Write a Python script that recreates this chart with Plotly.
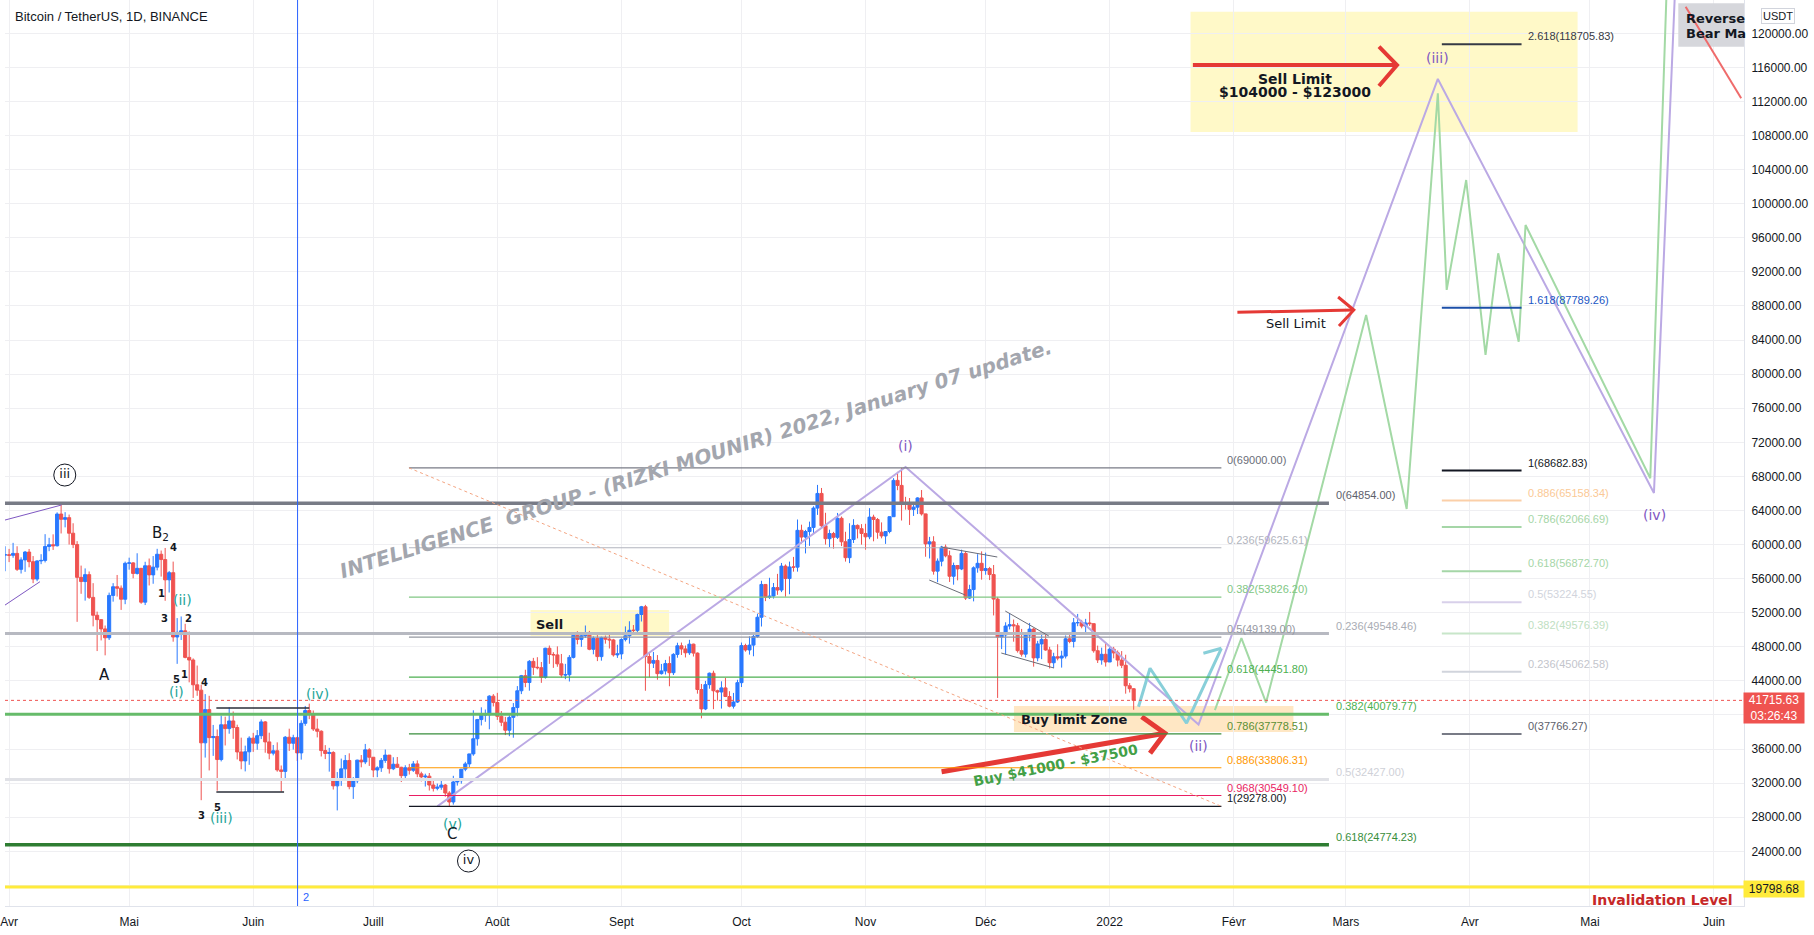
import pandas as pd
import plotly.graph_objects as go

# ---------------- candle data (BTCUSDT 1D) ----------------
opens = [55820, 57630, 58770,
         58800, 58740, 58960, 57090, 58200, 59120, 57990, 55950, 58080, 58140, 59770, 59980, 59860, 63580, 62960,
         63160, 61330, 60000, 56150, 55660, 56470, 53800, 51700, 51190, 50100, 49060, 54030, 55050, 54880, 53580,
         57800, 57850, 56610, 57210, 53240, 57510, 56440, 57350, 58860, 58240, 55860, 56700, 49150, 49700, 49880,
         46760, 46450, 43540, 42910, 36730, 40630, 37340, 37470, 34770, 38850, 38400, 39300, 38530, 35660, 34610, 35680,
         37280, 36690, 37570, 39190, 36840, 35520, 35800, 33550, 33380, 37390, 36680, 37330, 35550, 39020, 40520,
         40140, 38350, 38090, 35820, 35480, 35600, 31680, 32510, 33680, 34660, 31590, 32280, 34700, 34490, 35910,
         35040, 33540, 33800, 34670, 35290, 33690, 34220, 33860, 32880, 33810, 33510, 34260, 33090, 32730, 32820,
         31780, 31390, 31530, 31780, 30840, 29790, 32140, 32290, 33640, 34260, 35430, 37210, 39460, 40020, 40020, 42210,
         41460, 39850, 39150, 38210, 39720, 40870, 42840, 44610, 43810, 46290, 45600, 45550, 44420, 47830, 47100,
         47050, 46000, 44690, 44720, 46760, 49340, 48870, 49290, 49520, 47710, 48990, 46850, 49070, 48900, 48810, 47050,
         47170, 48850, 49290, 49940, 49930, 51790, 52700, 46860, 46080, 46400, 44850, 45170, 46030, 44960, 47110,
         48120, 47750, 47300, 48310, 47260, 42990, 40710, 43560, 44900, 42840, 42700, 43180, 42170, 41030, 41520,
         43790, 48140, 47630, 48200, 49220, 51470, 55320, 53790, 53950, 54950, 54660, 57470, 56010, 57370, 57350,
         61670, 60880, 61530, 62010, 64280, 66000, 62210, 60690, 61290, 60850, 63080, 60330, 58460, 60590, 62250, 61860,
         61300, 60910, 63220, 62940, 61450, 61010, 61530, 63270, 67530, 66940, 64880, 64770, 64130, 64390, 65470,
         63600, 60080, 60320, 56880, 58050, 59700, 58680, 56280, 57540, 57140, 58960, 53720, 54720, 57270, 57800,
         56950, 57180, 56480, 53600, 49150, 49400, 50440, 50590, 50470, 47550, 47140, 49390, 50080, 46700, 48340,
         48860, 47630, 46130, 46830, 46680, 46910, 48940, 48630, 50820, 50840, 50430, 50800, 50720, 47540, 46460, 47120,
         46220, 47720, 47290, 46440, 45830, 43430, 43080]
highs = [58400, 59370, 59800,
         59490, 60200, 59800, 58500, 59250, 59480, 58650, 58150, 58870, 61220, 60790, 61200, 63780, 64854, 63800,
         63520, 62500, 60400, 57530, 57200, 56840, 55470, 52130, 51200, 50500, 54360, 55470, 56430, 55200, 58000,
         58460, 57940, 58980, 57250, 57980, 58360, 58650, 59500, 59300, 59600, 56900, 58000, 51370, 51560, 50700,
         49800, 46640, 45800, 43550, 42450, 42250, 38830, 38300, 39920, 39800, 40900, 40410, 38860, 37340, 36400, 37500,
         37900, 38230, 39480, 39290, 37920, 36480, 36790, 34070, 37530, 38390, 37680, 37450, 39380, 41060, 41330,
         40530, 39560, 38200, 36460, 36140, 35750, 33300, 34880, 35300, 35500, 32700, 34750, 35300, 36600, 36100,
         35060, 33980, 34950, 35950, 35290, 35040, 35070, 33920, 34100, 34260, 34590, 34670, 33340, 33110, 33190,
         32250, 31950, 32440, 31900, 31060, 32860, 32580, 33650, 34500, 35400, 40550, 39540, 40900, 40640, 42320, 42450,
         42600, 40460, 39780, 39970, 41400, 43390, 44700, 45310, 46450, 46700, 46780, 46220, 47890, 48150, 47370,
         48050, 47160, 46000, 47030, 49380, 49830, 49500, 50500, 49870, 49230, 49380, 49200, 49320, 49640, 48930, 48240,
         49000, 50400, 51000, 50560, 51900, 52800, 52920, 47400, 47400, 47030, 45990, 46460, 46880, 47250, 48480,
         48500, 48150, 48820, 48370, 47340, 43640, 44000, 44980, 45200, 42970, 43950, 44350, 42790, 42590, 44130,
         48500, 48360, 49230, 49530, 51890, 55750, 55330, 56100, 55490, 56560, 57840, 57670, 58000, 58550, 62940,
         62330, 61720, 62690, 64490, 67000, 66640, 63730, 61750, 61490, 63710, 63290, 61500, 62500, 62980, 62360, 62400,
         62440, 64270, 63500, 63120, 62600, 61560, 63300, 67790, 68530, 69000, 65600, 65460, 65000, 65550, 66400,
         63620, 60900, 60980, 58370, 59850, 60000, 59290, 57880, 57600, 59400, 59200, 55280, 57440, 58870, 59200,
         59050, 57380, 57600, 53860, 49700, 50880, 51940, 51200, 50800, 50100, 49480, 50800, 50200, 48700, 49500,
         49440, 47990, 47300, 48300, 47540, 49330, 49580, 51380, 51860, 51160, 51280, 52090, 50720, 48140, 47900, 48550,
         47950, 47990, 47570, 47500, 47070, 43750, 43150]
lows = [54900, 57000, 56870,
        57940, 58450, 56900, 56600, 56800, 57330, 55470, 55700, 57700, 57900, 59220, 59370, 59770, 61300, 62020,
        60000, 59580, 50930, 54220, 53420, 53610, 50400, 47500, 48750, 47000, 48800, 53300, 53900, 52330, 53000,
        57050, 56040, 56480, 53050, 52900, 55200, 55400, 56970, 56240, 53400, 54370, 48600, 46000, 48800, 46650,
        43830, 42000, 42250, 30000, 35000, 33490, 35200, 31110, 34550, 36420, 37800, 37200, 34780, 33630, 33380, 34150,
        35670, 35920, 37170, 35570, 34800, 35260, 33340, 31000, 32400, 35780, 35940, 34600, 34760, 38730, 39510,
        38120, 37370, 35130, 34820, 33350, 31250, 28800, 31680, 32290, 31280, 30150, 32000, 33860, 34230, 34020,
        32710, 32700, 33320, 34380, 33120, 33530, 33780, 32130, 32260, 33010, 33310, 32700, 32200, 31600, 31130,
        31020, 31160, 31220, 30410, 29278, 29480, 31710, 31940, 33400, 33880, 35210, 36400, 38770, 39200, 38320, 41000,
        39420, 38690, 37640, 37510, 37330, 39850, 42450, 43260, 42850, 44700, 45350, 43770, 44260, 46000, 45530,
        45660, 44380, 44200, 43930, 46630, 48290, 48000, 49040, 47600, 47120, 46320, 46370, 48370, 47800, 46850, 46700,
        46540, 48630, 48370, 49450, 49500, 50970, 42840, 44410, 45510, 44140, 44740, 44750, 43370, 44690, 46720,
        47040, 46750, 47050, 46860, 42500, 39600, 40570, 43080, 40680, 41680, 40750, 42100, 40900, 40750, 41410,
        43280, 47430, 47080, 46890, 49050, 50380, 53360, 53620, 53660, 54100, 54420, 53880, 54170, 56820, 56820,
        60120, 58960, 59850, 61320, 63480, 62000, 60000, 59700, 59510, 60650, 59820, 58000, 57820, 60180, 60720, 59990,
        59400, 60630, 60380, 60680, 60730, 60080, 61320, 63270, 66380, 62820, 64100, 62300, 63360, 63580, 63400,
        58570, 58370, 56470, 55580, 57450, 58500, 55610, 55290, 55800, 57000, 53500, 53610, 53330, 56700, 55880,
        56460, 55830, 51680, 42000, 47730, 47100, 50040, 48600, 47320, 46850, 46750, 48640, 45670, 46300, 46550,
        47530, 45460, 45520, 46410, 45560, 46630, 48420, 47920, 50420, 50170, 49420, 50450, 47310, 46100, 45900, 45680,
        46210, 46650, 45700, 45500, 42500, 42640, 40610]
closes = [57630, 58770, 58800,
          58740, 58960, 57090, 58200, 59120, 57990, 55950, 58080, 58140, 59770, 59980, 59860, 63580, 62960, 63160,
          61330, 60000, 56150, 55660, 56470, 53800, 51700, 51190, 50100, 49060, 54030, 55050, 54880, 53580, 57800,
          57850, 56610, 57210, 53240, 57510, 56440, 57350, 58860, 58240, 55860, 56700, 49150, 49700, 49880, 46760,
          46450, 43540, 42910, 36730, 40630, 37340, 37470, 34770, 38850, 38400, 39300, 38530, 35660, 34610, 35680, 37280,
          36690, 37570, 39190, 36840, 35520, 35800, 33550, 33380, 37390, 36680, 37330, 35550, 39020, 40520, 40140,
          38350, 38090, 35820, 35480, 35600, 31680, 32510, 33680, 34660, 31590, 32280, 34700, 34490, 35910, 35040,
          33540, 33800, 34670, 35290, 33690, 34220, 33860, 32880, 33810, 33510, 34260, 33090, 32730, 32820, 31780,
          31390, 31530, 31780, 30840, 29790, 32140, 32290, 33640, 34260, 35430, 37210, 39460, 40020, 40020, 42210, 41460,
          39850, 39150, 38210, 39720, 40870, 42840, 44610, 43810, 46290, 45600, 45550, 44420, 47830, 47100, 47050,
          46000, 44690, 44720, 46760, 49340, 48870, 49290, 49520, 47710, 48990, 46850, 49070, 48900, 48810, 47050, 47170,
          48850, 49290, 49940, 49930, 51790, 52700, 46860, 46080, 46400, 44850, 45170, 46030, 44960, 47110, 48120,
          47750, 47300, 48310, 47260, 42990, 40710, 43560, 44900, 42840, 42700, 43180, 42170, 41030, 41520, 43790,
          48140, 47630, 48200, 49220, 51470, 55320, 53790, 53950, 54950, 54660, 57470, 56010, 57370, 57350, 61670,
          60880, 61530, 62010, 64280, 66000, 62210, 60690, 61290, 60850, 63080, 60330, 58460, 60590, 62250, 61860, 61300,
          60910, 63220, 62940, 61450, 61010, 61530, 63270, 67530, 66940, 64880, 64770, 64130, 64390, 65470, 63600,
          60080, 60320, 56880, 58050, 59700, 58680, 56280, 57540, 57140, 58960, 53720, 54720, 57270, 57800, 56950,
          57180, 56480, 53600, 49150, 49400, 50440, 50590, 50470, 47550, 47140, 49390, 50080, 46700, 48340, 48860,
          47630, 46130, 46830, 46680, 46910, 48940, 48630, 50820, 50840, 50430, 50800, 50720, 47540, 46460, 47120, 46220,
          47720, 47290, 46440, 45830, 43430, 43080, 41716]
dates = pd.date_range("2021-03-29", periods=len(closes), freq="D")

last_price = 41715.63
invalidation_price = 19798.68

month_ticks = ["2021-04-01", "2021-05-01", "2021-06-01", "2021-07-01", "2021-08-01", "2021-09-01",
               "2021-10-01", "2021-11-01", "2021-12-01", "2022-01-01", "2022-02-01", "2022-03-01",
               "2022-04-01", "2022-05-01", "2022-06-01"]
month_labels = ["Avr", "Mai", "Juin", "Juill", "Août", "Sept", "Oct", "Nov", "Déc", "2022",
                "Févr", "Mars", "Avr", "Mai", "Juin"]

# Fibonacci retracement 1 (Jul -> Jan)
fib1_levels = [0, 0.236, 0.382, 0.5, 0.618, 0.786, 0.886, 0.968, 1]
fib1_prices = [69000.00, 59625.61, 53826.20, 49139.00, 44451.80, 37778.51, 33806.31, 30549.10, 29278.00]
fib1_line_colors = ["#787b86", "#b2b5be", "#81c784", "#9598a1", "#4caf50", "#388e3c", "#ff9800", "#e91e63", "#131722"]
fib1_text_colors = ["#6a6d78", "#b2b5be", "#81c784", "#9598a1", "#4caf50", "#5b8f35", "#ff9800", "#e91e63", "#131722"]
# Fibonacci retracement 2 (thick, from the left)
fib2_levels = [0, 0.236, 0.382, 0.5, 0.618]
fib2_prices = [64854.00, 49548.46, 40079.77, 32427.00, 24774.23]
fib2_line_colors = ["#787b86", "#b7b9c1", "#66bb6a", "#e0e1e6", "#2e7d32"]
fib2_text_colors = ["#5d606b", "#a9acb4", "#4caf50", "#cfd1d8", "#388e3c"]
fib2_widths = [3.5, 3, 3, 3, 3.5]
# Fibonacci extension 3 (right)
fib3_levels = [0, 0.236, 0.382, 0.5, 0.618, 0.786, 0.886, 1, 1.618, 2.618]
fib3_prices = [37766.27, 45062.58, 49576.39, 53224.55, 56872.70, 62066.69, 65158.34, 68682.83, 87789.26, 118705.83]
fib3_line_colors = ["#787b86", "#d1d4dc", "#c8e6c9", "#d8d0ea", "#a5d6a7", "#a5d6a7", "#fbcfa8", "#131722", "#1c4fa8", "#363a45"]
fib3_text_colors = ["#5d606b", "#c3c5cc", "#c0e0c2", "#d1d4dc", "#a5d6a7", "#a5d6a7", "#fbc995", "#131722", "#1a56c4", "#363a45"]

# projected wave paths
purple_x = ["2021-07-17", "2021-11-11", "2022-01-23 05:00", "2022-03-24", "2022-05-17", "2022-05-23 05:00"]
purple_y = [29278, 69100, 38880, 114640, 66050, 135600]
green_x = ["2022-01-27 07:00", "2022-02-02 22:00", "2022-02-09 02:00", "2022-03-06 02:00", "2022-03-16 05:00",
           "2022-03-24", "2022-03-26 05:00", "2022-03-31 02:00", "2022-04-04 22:00", "2022-04-08 02:00",
           "2022-04-13 05:00", "2022-04-14 22:00", "2022-05-16 02:00", "2022-05-20 22:00"]
green_y = [40560, 49030, 41460, 86940, 64170, 112960, 89880, 102780, 82250, 94180, 83810, 97500, 67780, 135640]
teal_x = ["2022-01-08 05:00", "2022-01-11 02:00", "2022-01-20 05:00", "2022-01-28 22:00", None,
          "2022-01-24 10:00", "2022-01-28 22:00"]
teal_y = [40970, 45480, 39030, 47830, None, 47240, 47830]

# red arrows (shaft + head)
arrow_big_x = ["2022-01-21 19:00", "2022-03-13 19:00", None, "2022-03-09 07:00", "2022-03-13 19:00", "2022-03-09 07:00"]
arrow_big_y = [116280, 116280, None, 118430, 116280, 113820]
arrow_mid_x = ["2022-02-01 22:00", "2022-03-03", None, "2022-02-27 02:00", "2022-03-03", "2022-02-27 07:00"]
arrow_mid_y = [87260, 87530, None, 89050, 87530, 85650]
arrow_buy_x = ["2021-11-20", "2022-01-14 19:00", None, "2022-01-09", "2022-01-14 19:00", "2022-01-11 02:00"]
arrow_buy_y = [33345, 37850, None, 39800, 37850, 35500]

fig = go.Figure()

fig.add_trace(go.Candlestick(
    x=dates, open=opens, high=highs, low=lows, close=closes,
    increasing=dict(line=dict(color="#2979ff", width=1), fillcolor="#2979ff"),
    decreasing=dict(line=dict(color="#ef5350", width=1), fillcolor="#ef5350"),
    whiskerwidth=0, hoverinfo="skip"))

shapes = []


def hline(x0, x1, y, color, width, dash="solid", xref="x"):
    shapes.append(dict(type="line", xref=xref, yref="y", x0=x0, x1=x1, y0=y, y1=y,
                       line=dict(color=color, width=width, dash=dash)))


def seg(x0, y0, x1, y1, color, width, dash="solid"):
    shapes.append(dict(type="line", xref="x", yref="y", x0=x0, x1=x1, y0=y0, y1=y1,
                       line=dict(color=color, width=width, dash=dash)))


def rect(x0, x1, y0, y1, fill, layer="below"):
    shapes.append(dict(type="rect", xref="x", yref="y", x0=x0, x1=x1, y0=y0, y1=y1,
                       line=dict(width=0), fillcolor=fill, layer=layer))


# boxes
rect("2022-01-21 05:00", "2022-04-27 22:00", 108420, 122530, "rgba(255,235,59,0.28)")
rect("2021-08-09 07:00", "2021-09-12 22:00", 49280, 52330, "rgba(255,235,59,0.28)")
rect("2021-12-08 02:00", "2022-02-15 22:00", 38000, 41050, "rgba(255,179,71,0.32)")
rect("2022-05-23 02:00", "2022-07-01", 118430, 123520, "#d6d7dc", "above")

annotations = []


def ann(text, x, y, color="#131722", size=13, family="DejaVu Sans", xanchor="center", yanchor="middle",
        angle=0, xref="x", yref="y", **kw):
    d = dict(text=text, x=x, y=y, xref=xref, yref=yref, showarrow=False, xanchor=xanchor, yanchor=yanchor,
             textangle=angle, font=dict(color=color, size=size, family=family))
    d.update(kw)
    annotations.append(d)


def lvl(v):
    return ("%g" % v)


# fib 2 (thick)
for L, p, c, tc, w in zip(fib2_levels, fib2_prices, fib2_line_colors, fib2_text_colors, fib2_widths):
    hline("2021-03-01", "2022-02-24 19:00", p, c, w)
    ann(f"{lvl(L)}({p:.2f})", "2022-02-26 02:00", p, tc, 11, "Liberation Sans", "left", "bottom")
# fib 1
for L, p, c, tc in zip(fib1_levels, fib1_prices, fib1_line_colors, fib1_text_colors):
    hline("2021-07-09 22:00", "2022-01-28 22:00", p, c, 1.2)
    ann(f"{lvl(L)}({p:.2f})", "2022-01-29 22:00", p, tc, 11, "Liberation Sans", "left", "bottom")
seg("2021-07-09 22:00", fib1_prices[0], "2022-01-28 22:00", fib1_prices[-1], "#f4a582", 1, "dot")
# fib 3
for L, p, c, tc in zip(fib3_levels, fib3_prices, fib3_line_colors, fib3_text_colors):
    hline("2022-03-25", "2022-04-13 22:00", p, c, 2)
    ann(f"{lvl(L)}({p:.2f})", "2022-04-14 22:00", p, tc, 11, "Liberation Sans", "left", "bottom")

# last price & invalidation
shapes.append(dict(type="line", xref="paper", yref="y", x0=0, x1=1, y0=last_price, y1=last_price,
                   line=dict(color="#ef5350", width=1, dash="dot")))
shapes.append(dict(type="line", xref="paper", yref="y", x0=0, x1=1, y0=invalidation_price, y1=invalidation_price,
                   line=dict(color="#ffeb3b", width=3)))
# blue vertical
shapes.append(dict(type="line", xref="x", yref="paper", x0="2021-06-12 02:00", x1="2021-06-12 02:00", y0=0, y1=1,
                   line=dict(color="#2962ff", width=1)))

# channels / structure lines
seg("2021-11-19 22:00", 59710, "2021-12-03 22:00", 58540, "#6a6d78", 1)
seg("2021-11-16 22:00", 55840, "2021-11-25 22:00", 54080, "#6a6d78", 1)
seg("2021-12-05 22:00", 52200, "2021-12-16 19:00", 49270, "#6a6d78", 1)
seg("2021-12-04 22:00", 47270, "2021-12-18 02:00", 45510, "#6a6d78", 1)
seg("2021-05-22 19:00", 40820, "2021-06-15", 40820, "#2a2e39", 1.5)
seg("2021-05-22 19:00", 30960, "2021-06-08 17:00", 30960, "#2a2e39", 1.5)
seg("2021-03-25", 62130, "2021-04-14 02:00", 64640, "#7e57c2", 1)
seg("2021-03-25", 51020, "2021-04-08 17:00", 55640, "#7e57c2", 1)
seg("2022-05-24 22:00", 123120, "2022-06-07 19:00", 112370, "#ef6b6b", 2)

# paths as traces
fig.add_trace(go.Scatter(x=purple_x, y=purple_y, mode="lines", line=dict(color="#bba9e4", width=2), hoverinfo="skip"))
fig.add_trace(go.Scatter(x=green_x, y=green_y, mode="lines", line=dict(color="#a3d9a5", width=2), hoverinfo="skip"))
fig.add_trace(go.Scatter(x=teal_x, y=teal_y, mode="lines", line=dict(color="#88cfd9", width=3), hoverinfo="skip"))
fig.add_trace(go.Scatter(x=arrow_big_x, y=arrow_big_y, mode="lines", line=dict(color="#e53935", width=4), hoverinfo="skip"))
fig.add_trace(go.Scatter(x=arrow_mid_x, y=arrow_mid_y, mode="lines", line=dict(color="#e53935", width=3), hoverinfo="skip"))
fig.add_trace(go.Scatter(x=arrow_buy_x, y=arrow_buy_y, mode="lines", line=dict(color="#e53935", width=5), hoverinfo="skip"))

# circled wave labels
fig.add_trace(go.Scatter(x=["2021-04-14 22:00", "2021-07-24 19:00"], y=[68160, 22860], mode="markers+text",
                         text=["iii", "iv"], textposition="middle center",
                         textfont=dict(family="DejaVu Sans", size=13, color="#131722"),
                         marker=dict(symbol="circle", size=22, color="white", line=dict(color="#131722", width=1)),
                         hoverinfo="skip"))

# ---- texts ----
PURPLE = "#7e57c2"
TEAL = "#26a69a"
ann("(i)", "2021-11-11", 71570, PURPLE, 14)
ann("(ii)", "2022-01-23 02:00", 36390, PURPLE, 14)
ann("(iii)", "2022-03-24", 117070, PURPLE, 14)
ann("(iv)", "2022-05-17 02:00", 63470, PURPLE, 14)
ann("(v)", "2021-07-20 19:00", 27170, TEAL, 14)
ann("C", "2021-07-20 19:00", 26000, "#131722", 15)
ann("(iv)", "2021-06-17", 42460, TEAL, 14)
ann("(ii)", "2021-05-14 06:00", 53490, TEAL, 14)
ann("(i)", "2021-05-12 22:00", 42660, TEAL, 14)
ann("(iii)", "2021-05-24 02:00", 27950, TEAL, 14)
ann("A", "2021-04-24 22:00", 44690, "#131722", 15)
ann("B<sub>2</sub>", "2021-05-08 19:00", 61300, "#131722", 15)
for t, x, y in [("4", "2021-05-12 02:00", 59680), ("1", "2021-05-09", 54280), ("3", "2021-05-09 22:00", 51350),
                ("2", "2021-05-15 22:00", 51350), ("5", "2021-05-12 22:00", 44180), ("1", "2021-05-14 22:00", 44770),
                ("4", "2021-05-19 22:00", 43830), ("3", "2021-05-19", 28150), ("5", "2021-05-23 02:00", 29120)]:
    ann("<b>" + t + "</b>", x, y, "#131722", 10)

ann("<b>Sell Limit</b>", "2022-02-16 07:00", 114684, "#131722", 14)
ann("<b>$104000 - $123000</b>", "2022-02-16 07:00", 113146, "#131722", 14)
ann("Sell Limit", "2022-02-16 14:00", 85970, "#131722", 13)
ann("<b>Reverse</b>", "2022-05-24 10:00", 121760, "#131722", 13, xanchor="left")
ann("<b>Bear Ma</b>", "2022-05-24 10:00", 120000, "#131722", 13, xanchor="left")
ann("<b>Invalidation Level</b>", "2022-06-06 07:00", 18290, "#c62828", 14, xanchor="right")
ann("<b>Buy limit Zone</b>", "2021-12-09 10:00", 39494, "#131722", 13, xanchor="left")
ann("<b>Sell</b>", "2021-08-10 05:00", 50677, "#131722", 13, xanchor="left")
ann("<b>Buy $41000 - $37500</b>", "2021-12-18 14:00", 34130, "#43a047", 14, angle=-11.2)
ann("<b><i>INTELLIGENCE  GROUP - (RIZKI MOUNIR) 2022, January 07 update.</i></b>", "2021-09-19 14:00", 70040,
    "#a3a6ae", 20, angle=-17.6)
ann("2", "2021-06-13", 18640, "#2962ff", 11, "Liberation Sans", xanchor="left")

# paper-anchored UI elements
PW, PH = 1744.0, 906.0


def pxx(v):
    return v / PW


def pyy(v):
    return 1 - v / PH


ann("Bitcoin / TetherUS, 1D, BINANCE", pxx(8), pyy(17), "#131722", 13, "Liberation Sans", xanchor="left",
    xref="paper", yref="paper")
ann("USDT", pxx(1761), pyy(16), "#131722", 11, "Liberation Sans", xanchor="left", xref="paper", yref="paper",
    bordercolor="#d1d4dc", borderwidth=1, borderpad=1, bgcolor="white")
ann(f"{last_price:.2f}<br>03:26:43", pxx(1743), pyy(708), "white", 12, "Liberation Sans", xanchor="left",
    xref="paper", yref="paper", bgcolor="#ef5350", width=58, height=28, borderpad=1)
ann(f"{invalidation_price:.2f}", pxx(1743), pyy(888.5), "#131722", 12, "Liberation Sans", xanchor="left",
    xref="paper", yref="paper", bgcolor="#ffeb3b", width=58, height=14, borderpad=1)

fig.update_layout(
    width=1814, height=935, margin=dict(l=0, r=70, t=0, b=29),
    paper_bgcolor="white", plot_bgcolor="white", showlegend=False,
    boxgap=0.12, boxgroupgap=0.12,
    shapes=shapes, annotations=annotations,
    xaxis=dict(type="date", range=["2021-03-30 23:30", "2022-06-08 12:00"], rangeslider=dict(visible=False),
               tickmode="array", tickvals=month_ticks, ticktext=month_labels,
               showgrid=True, gridcolor="#efeff2", gridwidth=1, zeroline=False,
               showline=True, linecolor="#e0e3eb", linewidth=1, mirror=False,
               ticks="outside", ticklen=5, tickcolor="rgba(0,0,0,0)",
               tickfont=dict(family="Liberation Sans", size=12, color="#131722"),
               ticklabeloverflow="allow"),
    yaxis=dict(side="right", range=[17582, 123908], tick0=0, dtick=4000, tickformat=".2f",
               showgrid=True, gridcolor="#efeff2", gridwidth=1, zeroline=False,
               showline=True, linecolor="#e0e3eb", linewidth=1,
               ticks="outside", ticklen=4, tickcolor="rgba(0,0,0,0)",
               tickfont=dict(family="Liberation Sans", size=12, color="#131722"),
               ticklabeloverflow="allow"),
)

fig.write_html("out.html")
